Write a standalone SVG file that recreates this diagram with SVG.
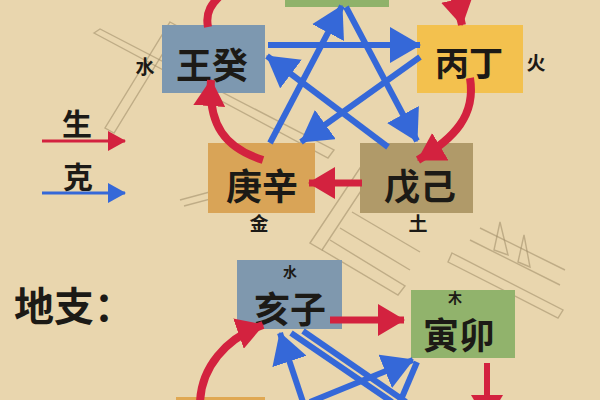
<svg xmlns="http://www.w3.org/2000/svg" width="600" height="400" viewBox="0 0 600 400">
<defs>
<style>
.box{stroke:none}
.cjk{font-family:"Noto Sans CJK SC","Noto Sans CJK JP",sans-serif;fill:#1c1a16;text-anchor:middle;dominant-baseline:central;font-weight:700}
.big{font-size:36px}
.sm{font-size:19px}
.xs{font-size:14px}
.red{fill:none;stroke:#d3223f;stroke-width:8;marker-end:url(#rh)}
.redc{fill:none;stroke:#d3223f;stroke-width:8}
.blue{fill:none;stroke:#3568d8;stroke-width:6;marker-end:url(#bh)}
.bluec{fill:none;stroke:#3568d8;stroke-width:6}
.wm{fill:none;stroke:#9c8a66;stroke-width:1.4;opacity:0.55}
</style>
<marker id="rh" markerUnits="userSpaceOnUse" markerWidth="28" markerHeight="32" refX="26" refY="16" orient="auto">
<path d="M0,0 L27,16 L0,32 z" fill="#d3223f"/>
</marker>
<marker id="bh" markerUnits="userSpaceOnUse" markerWidth="32" markerHeight="36" refX="30" refY="18" orient="auto">
<path d="M0,0 L31,18 L0,36 z" fill="#3568d8"/>
</marker>
<marker id="rl" markerUnits="userSpaceOnUse" markerWidth="18" markerHeight="20" refX="17" refY="10" orient="auto">
<path d="M0,0 L18,10 L0,20 z" fill="#d3223f"/>
</marker>
<marker id="bl" markerUnits="userSpaceOnUse" markerWidth="18" markerHeight="20" refX="17" refY="10" orient="auto">
<path d="M0,0 L18,10 L0,20 z" fill="#3568d8"/>
</marker>
</defs>
<rect x="0" y="0" width="600" height="400" fill="#e9d6ae"/>

<g id="watermark">
<path class="wm" d="M94,33 L100,29 L334,150 L328,158 Z"/>
<path class="wm" d="M170,22 L179,27 L114,133 L105,128 Z"/>
<path class="wm" d="M310,243 L372,150 L384,156 L322,250 Z"/>
<path class="wm" d="M322,250 L398,295 L405,286 L330,240"/>
<path class="wm" d="M340,228 L410,270 M352,212 L420,252 M372,150 L460,200 L452,212"/>
<path class="wm" d="M395,205 L408,180 L415,208 Z"/>
<path class="wm" d="M452,253 L563,310 L558,318 L448,262 Z"/>
<path class="wm" d="M470,240 L560,285 M480,228 L565,270"/>
<path class="wm" d="M494,250 L500,222 L508,255 Z M518,262 L524,235 L530,267 Z"/>
<path class="wm" d="M180,200 L310,165 L312,172 L184,206"/>
</g>

<g id="n-top"><rect class="box" x="285" y="-10" width="104" height="17" fill="#8fb26a"/></g>
<g id="n-rengui"><rect class="box" x="162" y="25" width="103" height="68" fill="#7d98b0"/>
<text class="cjk big" x="212" y="63">王癸</text>
<text class="cjk sm" x="145" y="65">水</text></g>
<g id="n-bingding"><rect class="box" x="417" y="25" width="106" height="68" fill="#f3c14e"/>
<text class="cjk big" x="469" y="61" style="font-size:34px">丙丁</text>
<text class="cjk sm" x="536" y="61">火</text></g>
<g id="n-gengxin"><rect class="box" x="208" y="143" width="107" height="70" fill="#d9a457"/>
<text class="cjk big" x="262" y="184">庚辛</text>
<text class="cjk sm" x="259" y="222">金</text></g>
<g id="n-wuji"><rect class="box" x="360" y="143" width="113" height="70" fill="#b09a69"/>
<text class="cjk big" x="420" y="184">戊己</text>
<text class="cjk sm" x="418" y="222">土</text></g>
<g id="n-haizi"><rect class="box" x="237" y="260" width="105" height="69" fill="#7f98ae"/>
<text class="cjk xs" x="290" y="271">水</text>
<text class="cjk big" x="290" y="307">亥子</text></g>
<g id="n-yinmao"><rect class="box" x="411" y="290" width="104" height="68" fill="#91b36c"/>
<text class="cjk xs" x="455" y="297">木</text>
<text class="cjk big" x="459" y="333">寅卯</text></g>
<g id="n-bottom"><rect class="box" x="176" y="397" width="89" height="10" fill="#e0a852"/></g>

<g id="legend">
<text class="cjk" x="77" y="122" style="font-size:30px">生</text>
<path d="M42,141 L125,141" fill="none" stroke="#d3223f" stroke-width="3" marker-end="url(#rl)"/>
<text class="cjk" x="78" y="175" style="font-size:30px">克</text>
<path d="M42,193 L125,193" fill="none" stroke="#3568d8" stroke-width="3" marker-end="url(#bl)"/>
<text class="cjk" x="14" y="304" style="font-size:40px;text-anchor:start">地支：</text>
</g>

<g id="connectors">
<path class="blue" d="M268,45 L420,45"/>
<path class="blue" d="M420,57 L301,142"/>
<path class="blue" d="M270,143 L342,6"/>
<path class="blue" d="M346,7 L417,141"/>
<path class="blue" d="M388,147 L267,56"/>
<path class="blue" d="M303,402 L280,333"/>
<path class="bluec" d="M291,333 L392,402"/>
<path class="bluec" d="M303,331 L406,402"/>
<path class="blue" d="M310,402 L413,360"/>
<path class="bluec" d="M417,362 L400,402"/>

<path class="red" d="M263,160 C225,148 208,125 211,80"/>
<path class="red" d="M470,78 C476,115 455,138 418,160"/>
<path class="redc" d="M208,27 C205,12 212,3 222,-6"/>
<path class="red" d="M443,-25 Q456,-5 462,25"/>
<path class="red" d="M362,183 L309,183" style="stroke-width:7"/>
<path class="red" d="M330,320 L404,320" style="stroke-width:7"/>
<path class="red" d="M487,363 L487,421" style="stroke-width:6"/>
<path class="red" d="M200,405 C200,368 226,338 263,325"/>
</g>
</svg>
